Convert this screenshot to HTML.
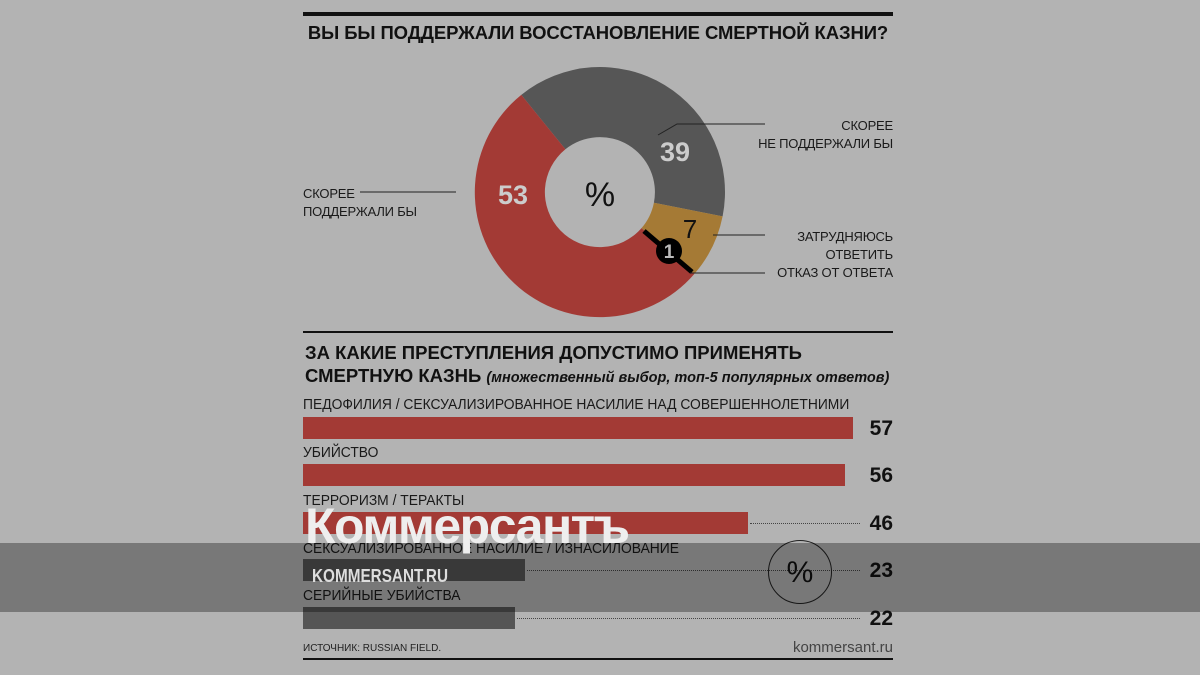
<!DOCTYPE html>
<html><head><meta charset="utf-8"><style>
body{margin:0;width:1200px;height:675px;background:#b3b3b3;overflow:hidden;position:relative;font-family:"Liberation Sans","DejaVu Sans",sans-serif}
.a{position:absolute;white-space:nowrap}
.lbl{font-size:13px;color:#1a1a1a;letter-spacing:-0.2px}
.bl{font-size:14.5px;color:#1a1a1a;transform:scaleX(0.955);transform-origin:left}
.val{font-size:21px;font-weight:bold;color:#111;right:307px}
.bar{position:absolute;left:303px;height:22px}
.dot{position:absolute;border-top:1px dotted #444;height:0}
</style></head><body>
<div class="a" style="left:303px;top:12px;width:590px;height:4px;background:#111"></div>
<div class="a" style="left:303px;top:22px;width:590px;text-align:center;font-size:18.5px;font-weight:bold;color:#111;letter-spacing:-0.1px">ВЫ БЫ ПОДДЕРЖАЛИ ВОССТАНОВЛЕНИЕ СМЕРТНОЙ КАЗНИ?</div>
<svg class="a" style="left:0;top:0" width="1200" height="340">
<g transform="translate(600,192)">
<path d="M-78.7,-97.1 A125,125 0 0,1 122.6,24.4 L53.9,10.7 A55,55 0 0,0 -34.6,-42.7 Z" fill="#565656"/>
<path d="M122.6,24.4 A125,125 0 0,1 94.3,82.0 L41.5,36.1 A55,55 0 0,0 53.9,10.7 Z" fill="#a57a35"/>
<path d="M94.3,82.0 A125,125 0 1,1 -78.7,-97.1 L-34.6,-42.7 A55,55 0 1,0 41.5,36.1 Z" fill="#a33a35"/>
<line x1="44" y1="39" x2="92" y2="80" stroke="#000" stroke-width="5"/>
<circle cx="69" cy="59" r="13" fill="#000"/>
<text x="69" y="66" font-size="19" font-weight="bold" fill="#bbb" text-anchor="middle">1</text>
<text x="-87" y="12" font-size="27" font-weight="bold" fill="#ccc" text-anchor="middle">53</text>
<text x="75" y="-31" font-size="27" font-weight="bold" fill="#ccc" text-anchor="middle">39</text>
<text x="90" y="46" font-size="26" fill="#111" text-anchor="middle">7</text>
<text x="0" y="14" font-size="34" fill="#111" text-anchor="middle">%</text>
</g>
<polyline points="360,192 456,192" stroke="#222" fill="none"/>
<polyline points="658,135 677,124 765,124" stroke="#222" fill="none"/>
<line x1="713" y1="235" x2="765" y2="235" stroke="#222"/>
<line x1="690" y1="273" x2="765" y2="273" stroke="#222"/>
<line x1="303" y1="332" x2="893" y2="332" stroke="#111" stroke-width="2"/>
</svg>
<div class="a lbl" style="left:303px;top:185px;line-height:18px">СКОРЕЕ<br>ПОДДЕРЖАЛИ БЫ</div>
<div class="a lbl" style="right:307px;top:117px;line-height:18px;text-align:right">СКОРЕЕ<br>НЕ ПОДДЕРЖАЛИ БЫ</div>
<div class="a lbl" style="right:307px;top:228px;line-height:18px;text-align:right">ЗАТРУДНЯЮСЬ<br>ОТВЕТИТЬ</div>
<div class="a lbl" style="right:307px;top:265px">ОТКАЗ ОТ ОТВЕТА</div>
<div class="a" style="left:305px;top:341px;font-size:18.5px;font-weight:bold;color:#111;line-height:23px">ЗА КАКИЕ ПРЕСТУПЛЕНИЯ ДОПУСТИМО ПРИМЕНЯТЬ<br>СМЕРТНУЮ КАЗНЬ <span style="font-size:14.5px;font-style:italic">(множественный выбор, топ-5 популярных ответов)</span></div>

<div class="a bl" style="left:303px;top:397px">ПЕДОФИЛИЯ / СЕКСУАЛИЗИРОВАННОЕ НАСИЛИЕ НАД СОВЕРШЕННОЛЕТНИМИ</div>
<div class="bar" style="top:417px;width:550px;background:#a33a35"></div>
<div class="a val" style="top:417px">57</div>
<div class="a bl" style="left:303px;top:445px">УБИЙСТВО</div>
<div class="bar" style="top:464px;width:542px;background:#a33a35"></div>
<div class="a val" style="top:464px">56</div>
<div class="a bl" style="left:303px;top:493px">ТЕРРОРИЗМ / ТЕРАКТЫ</div>
<div class="bar" style="top:512px;width:445px;background:#a33a35"></div>
<div class="dot" style="left:750px;top:523px;width:110px"></div>
<div class="a val" style="top:512px">46</div>
<div class="a bl" style="left:303px;top:541px">СЕКСУАЛИЗИРОВАННОЕ НАСИЛИЕ / ИЗНАСИЛОВАНИЕ</div>
<div class="bar" style="top:559px;width:222px;background:#555"></div>
<div class="dot" style="left:527px;top:570px;width:333px"></div>
<div class="a val" style="top:559px">23</div>
<div class="a bl" style="left:303px;top:588px">СЕРИЙНЫЕ УБИЙСТВА</div>
<div class="bar" style="top:607px;width:212px;background:#555"></div>
<div class="dot" style="left:517px;top:618px;width:343px"></div>
<div class="a val" style="top:607px">22</div>
<div class="a" style="left:768px;top:540px;width:64px;height:64px;border:1px solid #222;border-radius:50%;text-align:center;line-height:64px;font-size:30px;color:#111;box-sizing:border-box">%</div>
<div class="a" style="left:303px;top:643px;font-size:10px;color:#222">ИСТОЧНИК: RUSSIAN FIELD.</div>
<div class="a" style="right:307px;top:639px;font-size:15px;color:#444">kommersant.ru</div>
<div class="a" style="left:303px;top:658px;width:590px;height:2px;background:#111"></div>

<div class="a" style="left:0;top:543px;width:1200px;height:69px;background:rgba(0,0,0,0.33)"></div>
<div class="a" style="left:305px;top:497px;font-size:50px;font-weight:bold;color:#eee;letter-spacing:-1.5px">Коммерсантъ</div>
<div class="a" style="left:312px;top:566px;font-size:18px;font-weight:bold;color:#ddd;transform:scaleX(0.85);transform-origin:left">KOMMERSANT.RU</div>
</body></html>
